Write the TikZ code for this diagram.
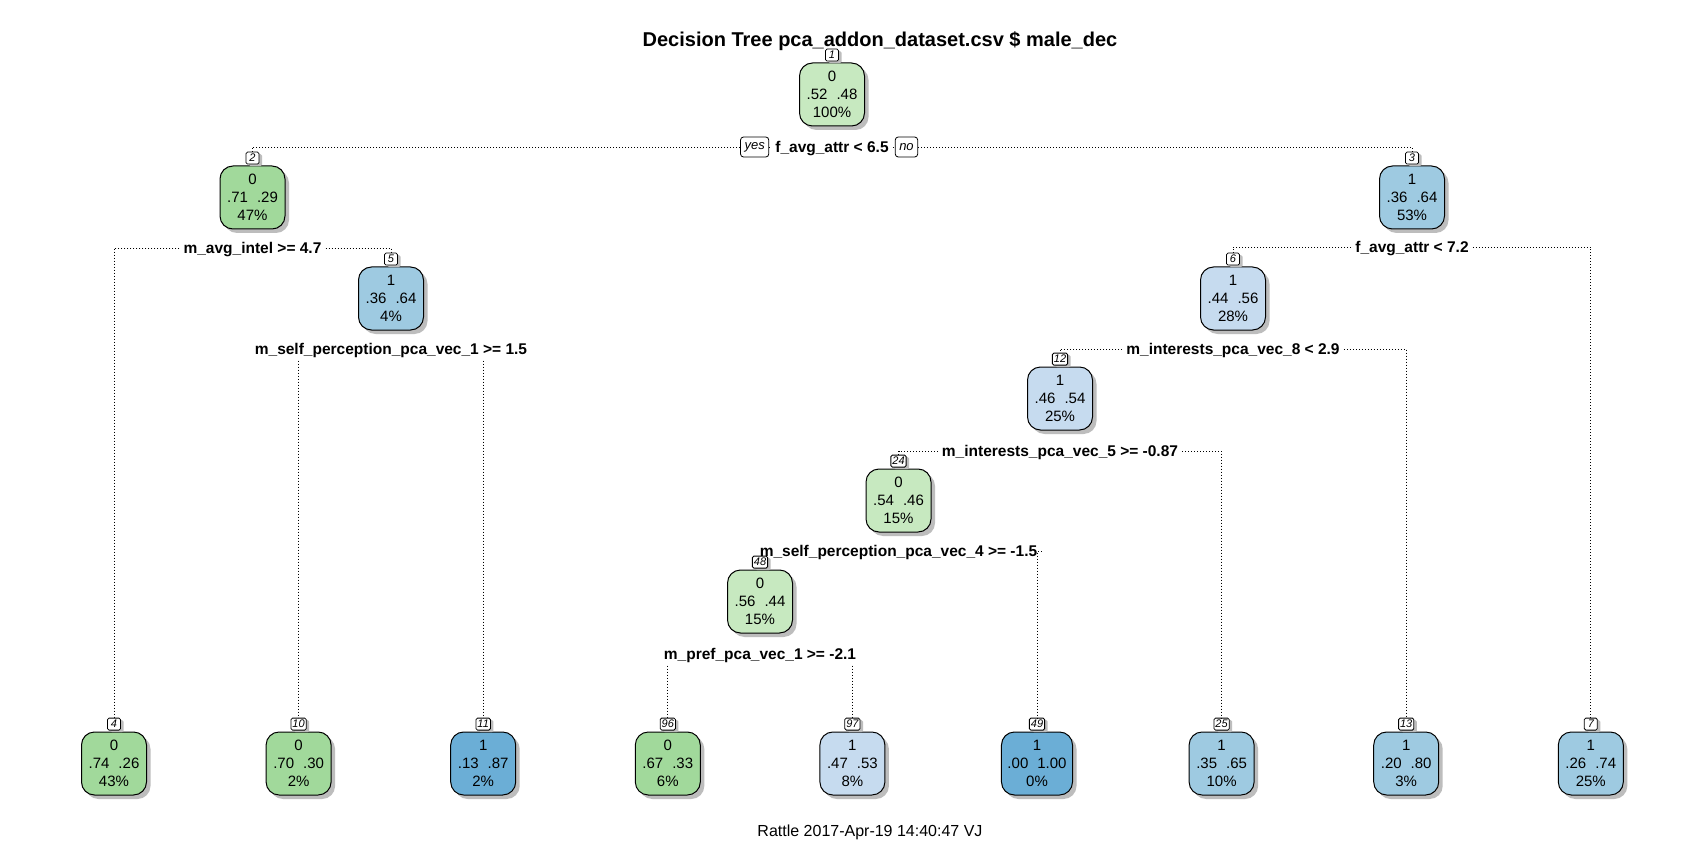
\documentclass[tikz,border=0pt]{standalone}
\usepackage{fontspec}
\setmainfont{Liberation Sans}
\usetikzlibrary{shadows}
\definecolor{gA}{HTML}{A1D99B}
\definecolor{gB}{HTML}{C7E9C0}
\definecolor{bA}{HTML}{9ECAE1}
\definecolor{bB}{HTML}{C6DBEF}
\definecolor{bC}{HTML}{6BAED6}
\definecolor{shade}{HTML}{BDBDBD}
\tikzset{
 tnode/.style={draw=black, line width=1pt, rounded corners=13pt, minimum width=65pt, minimum height=63pt, inner xsep=6pt, inner ysep=0pt, align=center, font=\fontsize{15}{18}\selectfont, drop shadow={shadow xshift=4pt, shadow yshift=-4pt, fill=shade, opacity=1}},
 numbox/.style={draw=black, line width=0.8pt, fill=white, rounded corners=1.5pt, minimum width=13pt, minimum height=12pt, inner sep=1.5pt, font=\fontsize{11}{11}\selectfont\itshape, anchor=south, drop shadow={shadow xshift=3pt, shadow yshift=-2pt, fill=shade, opacity=1}},
 split/.style={font=\fontsize{15.5}{16}\selectfont\bfseries, text height=11pt, text depth=0pt, inner xsep=4pt, inner ysep=0pt},
 yn/.style={draw=black, rounded corners=3pt, line width=0.8pt, font=\fontsize{13}{13}\selectfont\itshape, minimum height=20pt, inner xsep=4pt, inner ysep=0pt},
 conn/.style={line width=0.9pt, dash pattern=on 0.9pt off 2.1pt},
}
\newcommand{\gapsp}{\hspace{9pt}}
\begin{document}
\begin{tikzpicture}[x=1pt,y=-1pt]
\useasboundingbox[fill=white] (0,0) rectangle (1705,842);
% title and footer
\node[font=\fontsize{20}{24}\selectfont\bfseries, anchor=base] (title) at (880,47) {Decision Tree pca\_addon\_dataset.csv \$ male\_dec};
\node[font=\fontsize{16}{18}\selectfont, anchor=base] (footer) at (870,836) {Rattle 2017-Apr-19 14:40:47 VJ};
% internal nodes
\node[tnode, fill=gB] (n1) at (832,94.5) {0\\.52\gapsp.48\\100\%};
\node[tnode, fill=gA] (n2) at (252.5,197.5) {0\\.71\gapsp.29\\47\%};
\node[tnode, fill=bA] (n3) at (1412,197.5) {1\\.36\gapsp.64\\53\%};
\node[tnode, fill=bA] (n5) at (391,298.5) {1\\.36\gapsp.64\\4\%};
\node[tnode, fill=bB] (n6) at (1233,298.5) {1\\.44\gapsp.56\\28\%};
\node[tnode, fill=bB] (n12) at (1060,398.5) {1\\.46\gapsp.54\\25\%};
\node[tnode, fill=gB] (n24) at (898.5,500.5) {0\\.54\gapsp.46\\15\%};
\node[tnode, fill=gB] (n48) at (760,601.5) {0\\.56\gapsp.44\\15\%};
% leaves
\node[tnode, fill=gA] (n4) at (114,763.5) {0\\.74\gapsp.26\\43\%};
\node[tnode, fill=gA] (n10) at (298.6,763.5) {0\\.70\gapsp.30\\2\%};
\node[tnode, fill=bC] (n11) at (483.2,763.5) {1\\.13\gapsp.87\\2\%};
\node[tnode, fill=gA] (n96) at (667.8,763.5) {0\\.67\gapsp.33\\6\%};
\node[tnode, fill=bB] (n97) at (852.4,763.5) {1\\.47\gapsp.53\\8\%};
\node[tnode, fill=bC] (n49) at (1037,763.5) {1\\.00\gapsp1.00\\0\%};
\node[tnode, fill=bA] (n25) at (1221.6,763.5) {1\\.35\gapsp.65\\10\%};
\node[tnode, fill=bA] (n13) at (1406.2,763.5) {1\\.20\gapsp.80\\3\%};
\node[tnode, fill=bA] (n7) at (1590.8,763.5) {1\\.26\gapsp.74\\25\%};
% number boxes
\foreach \k in {1,2,3,4,5,6,7,10,11,12,13,24,25,48,49,96,97}{
  \node[numbox] (k\k) at ([yshift=1pt]n\k.north) {\k};
}
% split labels
\node[split] (s1) at (832,147) {f\_avg\_attr < 6.5};
\node[yn, anchor=east] (yes) at ([xshift=-2pt]s1.west) {yes};
\node[yn, anchor=west] (no) at ([xshift=2pt]s1.east) {no};
\node[split] (s2) at (252.5,248) {m\_avg\_intel >= 4.7};
\node[split] (s3) at (1412,247) {f\_avg\_attr < 7.2};
\node[split] (s5) at (391,349) {m\_self\_perception\_pca\_vec\_1 >= 1.5};
\node[split] (s6) at (1233,349) {m\_interests\_pca\_vec\_8 < 2.9};
\node[split] (s12) at (1060,451) {m\_interests\_pca\_vec\_5 >= -0.87};
\node[split] (s24) at (898.5,551) {m\_self\_perception\_pca\_vec\_4 >= -1.5};
\node[split] (s48) at (760,654) {m\_pref\_pca\_vec\_1 >= -2.1};
% connectors
\draw[conn] (yes.west) -| (k2.north);
\draw[conn] (yes.east) -- (s1.west);
\draw[conn] (s1.east) -- (no.west);
\draw[conn] (no.east) -| (k3.north);
\draw[conn] (s2.west) -| (k4.north);
\draw[conn] (s2.east) -| (k5.north);
\draw[conn] (s3.west) -| (k6.north);
\draw[conn] (s3.east) -| (k7.north);
\draw[conn] ([yshift=-6pt]k10.north |- s5.south) -- (k10.north);
\draw[conn] ([yshift=-6pt]k11.north |- s5.south) -- (k11.north);
\draw[conn] (s6.west) -| (k12.north);
\draw[conn] (s6.east) -| (k13.north);
\draw[conn] (s12.west) -| (k24.north);
\draw[conn] (s12.east) -| (k25.north);
\draw[conn] (s24.east) -| (k49.north);
\draw[conn] ([yshift=-6pt]k96.north |- s48.south) -- (k96.north);
\draw[conn] ([yshift=-6pt]k97.north |- s48.south) -- (k97.north);
\end{tikzpicture}
\end{document}
